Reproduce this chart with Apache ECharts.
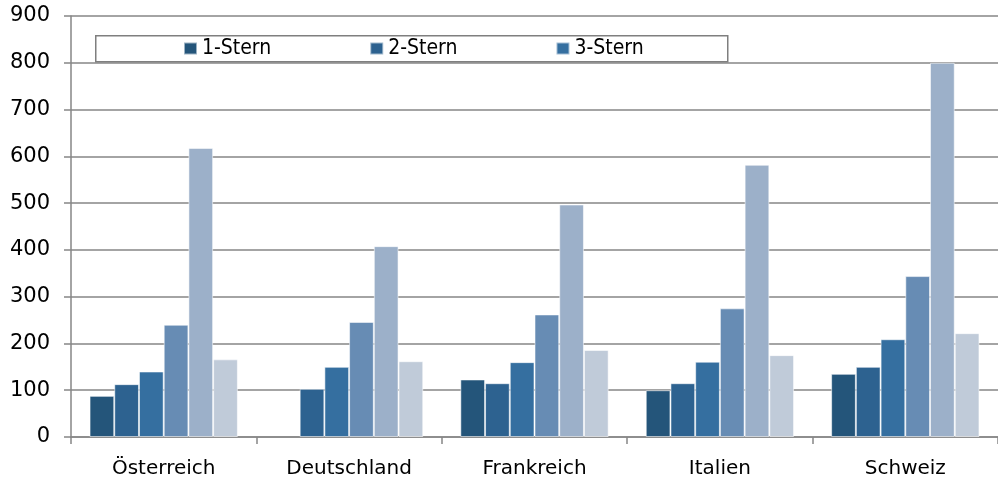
<!DOCTYPE html>
<html><head><meta charset="utf-8">
<script src="https://cdn.jsdelivr.net/npm/echarts@6/dist/echarts.min.js"></script>
<style>html,body{margin:0;padding:0;background:#fff}#c{width:998px;height:480px}</style>
</head><body><div id="c"></div>
<script>
const categories = ['Österreich', 'Deutschland', 'Frankreich', 'Italien', 'Schweiz'];
const seriesNames = ['1-Stern', '2-Stern', '3-Stern', '4-Stern', '5-Stern', '5-Stern Superior'];
const stern1 = [88, null, 123, 100, 135];
const stern2 = [113, 103, 115, 115, 150];
const stern3 = [140, 150, 160, 161, 209];
const stern4 = [240, 246, 262, 275, 344];
const stern5 = [618, 408, 497, 582, 800];
const stern6 = [166, 162, 186, 175, 222];
const yTicks = [0, 100, 200, 300, 400, 500, 600, 700, 800, 900];
const legendItems = ['1-Stern', '2-Stern', '3-Stern'];

const colors = ['#24557a', '#2d6290', '#356fa0', '#678cb4', '#9cb0c9', '#c0cbd9'];
const values = [stern1, stern2, stern3, stern4, stern5, stern6];
const font = 'DejaVu Sans';

const chart = echarts.init(document.getElementById('c'), null, {renderer: 'canvas'});
chart.setOption({
  animation: false,
  color: colors,
  grid: {left: 71, right: 0, top: 16, bottom: 43, containLabel: false},
  graphic: [{
    type: 'rect', left: 95, top: 35, z: 10,
    shape: {width: 632, height: 26},
    style: {fill: '#fff', stroke: '#7f7f7f', lineWidth: 1.5}
  }],
  legend: {
    data: legendItems, left: 183, top: 38, z: 20, padding: 0,
    itemWidth: 13, itemHeight: 12, itemGap: 98,
    icon: 'rect',
    textStyle: {fontFamily: 'DejaVu Sans Condensed, DejaVu Sans', fontSize: 21, color: '#000'}
  },
  xAxis: {
    type: 'category', data: categories,
    axisLine: {lineStyle: {color: '#868686', width: 1.5}},
    axisTick: {show: true, length: 7, lineStyle: {color: '#868686', width: 1.5}},
    axisLabel: {fontFamily: font, fontSize: 20, color: '#000', margin: 22}
  },
  yAxis: {
    type: 'value', min: yTicks[0], max: yTicks[yTicks.length - 1], interval: 100,
    axisLine: {show: true, lineStyle: {color: '#868686', width: 1.5}},
    axisTick: {show: true, length: 7, lineStyle: {color: '#868686', width: 1.5}},
    splitLine: {lineStyle: {color: '#868686', width: 1.5}},
    axisLabel: {fontFamily: font, fontSize: 21, color: '#000', margin: 21, padding: [3, 0, 0, 0]}
  },
  series: seriesNames.map((n, i) => ({
    name: n, type: 'bar', data: values[i],
    barGap: '0%', barCategoryGap: '20%',
    itemStyle: {color: colors[i], borderColor: 'rgba(255,255,255,0.55)', borderWidth: 1}
  }))
});
</script></body></html>
